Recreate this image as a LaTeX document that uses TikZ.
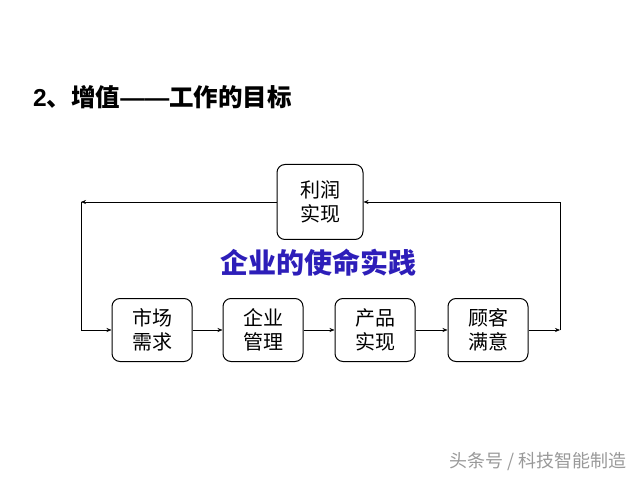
\documentclass[tikz,border=0pt]{standalone}
\usepackage{fontspec}
\setmainfont{Noto Sans CJK SC}
\newfontfamily\latinbold{Liberation Sans}
\usetikzlibrary{arrows.meta}
\definecolor{missionblue}{RGB}{45,30,185}
\tikzset{
	stagebox/.style={draw,line width=1pt,rounded corners=8pt,minimum width=80pt,minimum height=63pt,align=center,font=\fontsize{20}{24}\selectfont,inner sep=2pt},
	flow/.style={-{Stealth[length=5pt,width=4pt]},semithick}
}
\begin{document}
\begin{tikzpicture}[x=1pt,y=1pt]
	\useasboundingbox (0,0) rectangle (640,480);
	\node[anchor=west,font=\bfseries\fontsize{24.5}{28}\selectfont,inner sep=0pt] (title) at (33,383) {{\latinbold\bfseries 2}、增值{\latinbold\bfseries ——}工作的目标};
	\node[stagebox,minimum width=86pt,minimum height=75pt] (profit) at (320,278) {利润\\实现};
	\node[font=\bfseries\fontsize{28}{31}\selectfont,text=missionblue] (mission) at (318,217) {企业的使命实践};
	\node[stagebox] (market) at (152,150) {市场\\需求};
	\node[stagebox] (manage) at (263,150) {企业\\管理};
	\node[stagebox] (product) at (375,150) {产品\\实现};
	\node[stagebox] (customer) at (488,150) {顾客\\满意};
	\coordinate (tl) at (81,278);
	\coordinate (br) at (560,150);
	\draw[flow] (profit.west) -- (tl);
	\draw[flow] (tl) |- (market.west);
	\draw[flow] (market) -- (manage);
	\draw[flow] (manage) -- (product);
	\draw[flow] (product) -- (customer);
	\draw[flow] (customer.east) -- (br);
	\draw[flow] (br) |- (profit.east);
	\node[text=black!40,font=\fontsize{18}{21}\selectfont,anchor=east,inner sep=0pt] (mark) at (627,18) {头条号 / 科技智能制造};
\end{tikzpicture}
\end{document}
